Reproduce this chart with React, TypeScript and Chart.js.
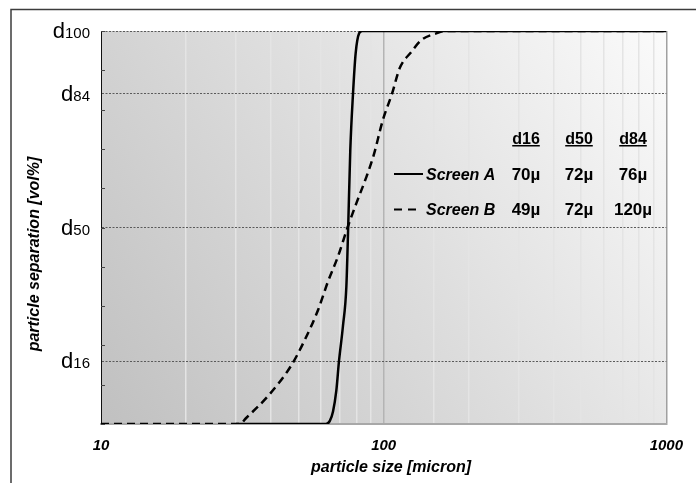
import React, { useEffect, useRef } from "react";
import { Chart, registerables } from "chart.js";

Chart.register(...registerables);

// ---- data ----
const sizesA = [30, 62.5, 64.5, 66.2, 68, 69.5, 71.8, 73.8, 74.9, 76.2, 77.9, 79.6, 81.9, 84, 1000];
const sepA = [0, 0, 0.8, 3.2, 8.5, 16, 25, 35, 50, 69.7, 84, 94.3, 99.4, 100, 100];
const sizesB = [10, 31, 32.5, 39.3, 47.2, 52.6, 58.6, 63.5, 68.9, 74.5, 80.1, 86.9, 92.2, 99.4, 107, 113.9, 125.3, 135.9, 153.5, 165, 1000];
const sepB = [0, 0, 1.4, 7.4, 15, 21.4, 29, 36.2, 42.6, 50, 56.2, 62.9, 68.4, 77.4, 84, 90.5, 94.7, 97.7, 99.4, 100, 100];

const seriesNames = ["Screen A", "Screen B"];
const yLabelValues = [16, 50, 84, 100];
const xLabelValues = [10, 100, 1000];
const tableHeaders = ["d16", "d50", "d84"];
const tableA = ["70µ", "72µ", "76µ"];
const tableB = ["49µ", "72µ", "120µ"];
const xTitle = "particle size [micron]";
const yTitle = "particle separation [vol%]";

const FONT = "'Liberation Sans', Arial, sans-serif";

const decorPlugin = {
  id: "decor",
  beforeDraw(chart: any) {
    const { ctx, chartArea } = chart;
    const { left, top, right, bottom } = chartArea;
    ctx.save();
    // outer frame (left & top visible)
    ctx.strokeStyle = "#3c3c3c";
    ctx.lineWidth = 1.5;
    ctx.beginPath();
    ctx.moveTo(11, 483);
    ctx.lineTo(11, 9.5);
    ctx.lineTo(696, 9.5);
    ctx.stroke();
    // plot background gradient
    const g = ctx.createLinearGradient(left, bottom, right, top);
    g.addColorStop(0, "#c0c0c0");
    g.addColorStop(0.5, "#dddddd");
    g.addColorStop(1, "#fbfbfb");
    ctx.fillStyle = g;
    ctx.fillRect(left, top, right - left, bottom - top);
    ctx.restore();
  },
  afterDraw(chart: any) {
    const { ctx, chartArea, scales } = chart;
    const ys = scales.y;
    const { left } = chartArea;
    ctx.save();
    // inside minor ticks on y axis
    ctx.strokeStyle = "#444";
    ctx.lineWidth = 1;
    for (let v = 0; v <= 100; v += 10) {
      const py = Math.round(ys.getPixelForValue(v)) + 0.5;
      ctx.beginPath();
      ctx.moveTo(left, py);
      ctx.lineTo(left + 4, py);
      ctx.stroke();
    }
    // y labels d + number
    ctx.fillStyle = "#000";
    ctx.textBaseline = "alphabetic";
    ctx.textAlign = "right";
    yLabelValues.forEach((v) => {
      const py = ys.getPixelForValue(v) + 7;
      ctx.font = `15px ${FONT}`;
      const num = String(v);
      const w = ctx.measureText(num).width;
      ctx.fillText(num, 90, py);
      ctx.font = `22px ${FONT}`;
      ctx.fillText("d", 90 - w, py);
    });
    // axis titles
    ctx.font = `italic bold 16px ${FONT}`;
    ctx.textAlign = "center";
    ctx.textBaseline = "middle";
    ctx.fillText(xTitle, 391, 468);
    ctx.save();
    ctx.translate(35, 254);
    ctx.rotate(-Math.PI / 2);
    ctx.fillText(yTitle, 0, 0);
    ctx.restore();

    // legend table
    const cols = [526, 579, 633];
    ctx.textBaseline = "alphabetic";
    ctx.font = `bold 16px ${FONT}`;
    tableHeaders.forEach((h, i) => {
      ctx.textAlign = "center";
      ctx.fillText(h, cols[i], 143.5);
      const w = ctx.measureText(h).width;
      ctx.fillRect(cols[i] - w / 2, 145, w, 1.5);
    });
    ctx.font = `bold 17px ${FONT}`;
    tableA.forEach((t, i) => ctx.fillText(t, cols[i], 180));
    tableB.forEach((t, i) => ctx.fillText(t, cols[i], 215));
    ctx.font = `italic bold 16px ${FONT}`;
    ctx.textAlign = "left";
    ctx.fillText(seriesNames[0], 426, 180);
    ctx.fillText(seriesNames[1], 426, 215);
    ctx.strokeStyle = "#000";
    ctx.lineWidth = 2;
    ctx.beginPath();
    ctx.moveTo(394, 174);
    ctx.lineTo(423, 174);
    ctx.stroke();
    ctx.setLineDash([8, 6]);
    ctx.beginPath();
    ctx.moveTo(394, 209.5);
    ctx.lineTo(422, 209.5);
    ctx.stroke();
    ctx.restore();
  },
};

export default function App() {
  const ref = useRef<HTMLCanvasElement | null>(null);
  useEffect(() => {
    if (!ref.current) return;
    const chart = new Chart(ref.current, {
      type: "line",
      data: {
        datasets: [
          {
            label: seriesNames[0],
            data: sizesA.map((x, i) => ({ x, y: sepA[i] })),
            borderColor: "#000",
            borderWidth: 2.5,
            pointRadius: 0,
            cubicInterpolationMode: "monotone",
            fill: false,
          },
          {
            label: seriesNames[1],
            data: sizesB.map((x, i) => ({ x, y: sepB[i] })),
            borderColor: "#000",
            borderWidth: 2.5,
            borderDash: [8, 5],
            pointRadius: 0,
            cubicInterpolationMode: "monotone",
            fill: false,
          },
        ],
      },
      options: {
        responsive: false,
        animation: false,
        layout: { padding: { left: 0, top: 31, right: 29, bottom: 0 } },
        plugins: { legend: { display: false }, tooltip: { enabled: false } },
        scales: {
          x: {
            type: "logarithmic",
            min: 10,
            max: 1000,
            afterFit: (s: any) => {
              s.height = 59;
            },
            grid: {
              drawTicks: false,
              lineWidth: 1.5,
              color: (c: any) => {
                const v = c.tick && c.tick.value;
                if (v === 10) return "rgba(0,0,0,0)";
                if (v === 100) return "#b4b4b4";
                if (v === 1000) return "#a0a0a0";
                return "#e4e4e4";
              },
            },
            border: { display: true, color: "#a8a8a8", width: 2 },
            ticks: {
              autoSkip: false,
              maxRotation: 0,
              padding: 13,
              color: "#000",
              font: { family: FONT, size: 15, style: "italic", weight: "bold" },
              callback: (v: any) => (xLabelValues.includes(Number(v)) ? String(v) : ""),
            },
          },
          y: {
            type: "linear",
            min: 0,
            max: 100,
            afterBuildTicks: (s: any) => {
              s.ticks = [0, ...yLabelValues].map((v) => ({ value: v }));
            },
            afterFit: (s: any) => {
              s.width = 101;
            },
            grid: {
              drawTicks: false,
              lineWidth: 1,
              color: (c: any) => (c.tick && c.tick.value === 0 ? "rgba(0,0,0,0)" : "#5a5a5a"),
            },
            border: { display: true, color: "#111", width: 1, dash: [2, 1.5] },
            ticks: { display: false },
          },
        },
      },
      plugins: [decorPlugin],
    } as any);
    return () => chart.destroy();
  }, []);
  return (
    <div style={{ position: "fixed", left: 0, top: 0, width: 696, height: 483, background: "#fff" }}>
      <canvas ref={ref} width={696} height={483} style={{ display: "block" }} />
    </div>
  );
}
